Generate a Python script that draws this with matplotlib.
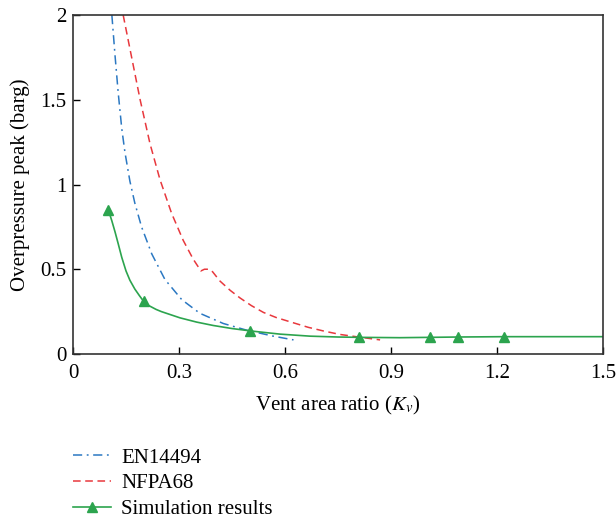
import matplotlib.pyplot as plt
from matplotlib.ticker import FuncFormatter

# EN14494 curve
en_x = [0.110, 0.119, 0.128, 0.138, 0.147, 0.161, 0.175, 0.194, 0.223, 0.260, 0.308, 0.359, 0.425, 0.492, 0.567, 0.624]
en_y = [2.00, 1.76, 1.54, 1.33, 1.19, 1.02, 0.89, 0.75, 0.59, 0.44, 0.32, 0.24, 0.18, 0.14, 0.105, 0.083]

# NFPA68 curve
nf_x = [0.142, 0.166, 0.190, 0.218, 0.246, 0.279, 0.312, 0.340, 0.362, 0.372, 0.385, 0.395, 0.416,
        0.445, 0.473, 0.505, 0.539, 0.575, 0.614, 0.666, 0.710, 0.756, 0.808, 0.869]
nf_y = [2.00, 1.75, 1.50, 1.24, 1.03, 0.83, 0.67, 0.56, 0.49, 0.50, 0.50, 0.485, 0.43,
        0.375, 0.33, 0.285, 0.245, 0.215, 0.19, 0.157, 0.135, 0.115, 0.10, 0.083]

# Simulation results: markers and the curve through them
sim_x = [0.10, 0.20, 0.50, 0.81, 1.01, 1.09, 1.22]
sim_y = [0.85, 0.31, 0.135, 0.099, 0.098, 0.100, 0.102]
sim_line_x = [0.100, 0.110, 0.119, 0.128, 0.138, 0.150, 0.161, 0.175, 0.188, 0.200, 0.215, 0.235, 0.250,
              0.303, 0.350, 0.397, 0.450, 0.506, 0.586, 0.671, 0.750, 0.810, 0.925, 1.010, 1.090, 1.220, 1.500]
sim_line_y = [0.85, 0.785, 0.72, 0.65, 0.57, 0.49, 0.435, 0.383, 0.344, 0.31, 0.285, 0.263, 0.25,
              0.213, 0.188, 0.168, 0.15, 0.135, 0.117, 0.105, 0.10, 0.098, 0.096, 0.098, 0.10, 0.102, 0.102]

plt.rcParams["font.family"] = ["Liberation Serif", "DejaVu Serif"]
plt.rcParams["mathtext.fontset"] = "stix"
plt.rcParams["font.size"] = 15

fig = plt.figure(figsize=(6.16, 5.19), dpi=100)
ax = fig.add_axes([0.1185, 0.318, 0.8605, 0.653])

ax.plot(en_x, en_y, color="#2b78c2", linestyle=(0, (6, 3, 1.2, 3)), linewidth=1.1, label="EN14494")
ax.plot(nf_x, nf_y, color="#e8383d", linestyle=(0, (5, 3)), linewidth=1.1, label="NFPA68")
ax.plot(sim_line_x, sim_line_y, color="#2ca44e", linewidth=1.2)
ax.plot(sim_x, sim_y, color="#2ca44e", linestyle="none", marker="^", markersize=6.5)
ax.plot([], [], color="#2ca44e", linewidth=1.2, marker="^", markersize=6.5, label="Simulation results")

ax.set_xlim(0, 1.5)
ax.set_ylim(0, 2)
ax.set_xticks([0, 0.3, 0.6, 0.9, 1.2, 1.5])
ax.set_yticks([0, 0.5, 1, 1.5, 2])
fmt = FuncFormatter(lambda v, p: f"{v:g}")
ax.xaxis.set_major_formatter(fmt)
ax.yaxis.set_major_formatter(fmt)
ax.tick_params(direction="in", length=5, width=1, top=False, right=False)
ax.tick_params(axis="x", pad=7)
ax.tick_params(axis="y", pad=4.5)
for s in ax.spines.values():
    s.set_linewidth(1.2)
    s.set_color("#333333")

ax.set_xlabel(r"Vent area ratio ($K_v$)", labelpad=8)
ax.set_ylabel("Overpressure peak (barg)", labelpad=8)

fig.legend(loc="upper left", bbox_to_anchor=(0.105, 0.153), frameon=False,
           handlelength=1.8, handletextpad=0.5, labelspacing=0.3, borderaxespad=0)

fig.savefig("out.png", dpi=100)
